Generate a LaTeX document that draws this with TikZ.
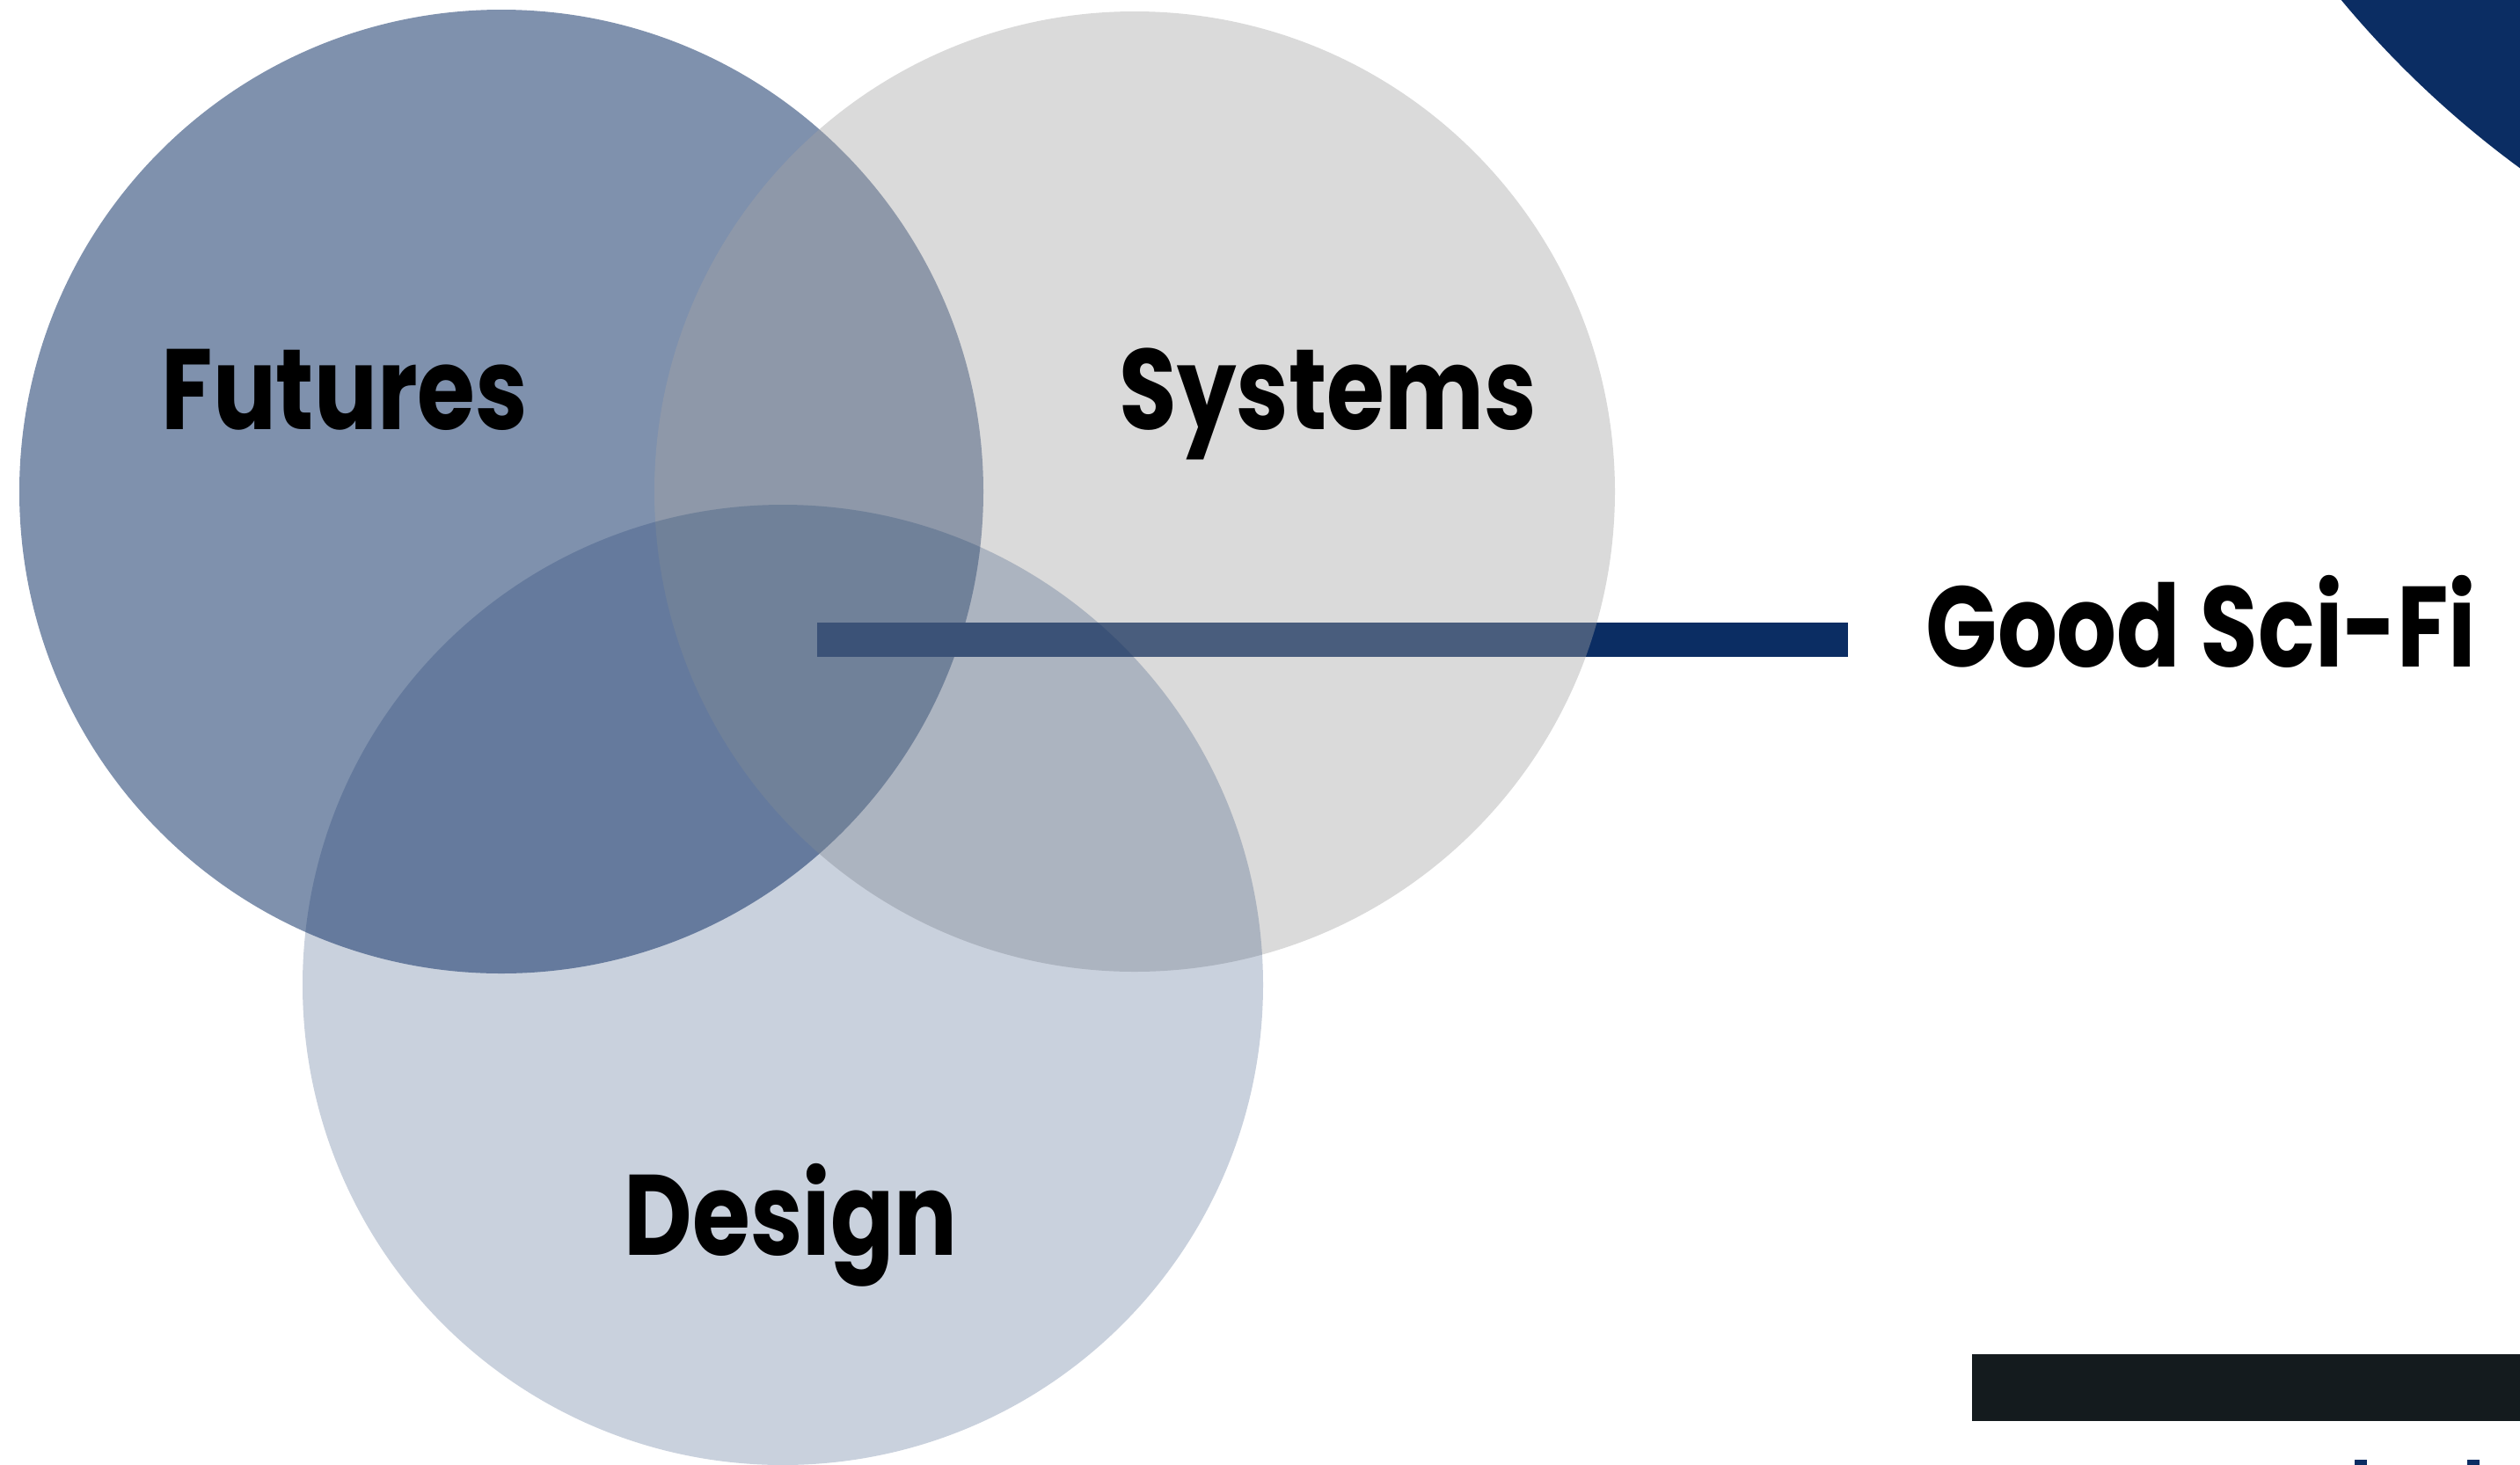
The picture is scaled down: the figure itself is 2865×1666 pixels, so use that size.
\documentclass[tikz,border=0pt]{standalone}
\usepackage{fontspec}
\setmainfont{Poppins}[FakeStretch=0.82]
\definecolor{navy}{HTML}{0B2D63}
\definecolor{sysgray}{HTML}{A4A4A4}
\definecolor{inkbar}{HTML}{141B1E}
\begin{document}
\begin{tikzpicture}[x=0.01cm,y=-0.01cm,
    lbl/.style={anchor=base west,inner sep=0pt,font=\fontsize{37}{40}\selectfont\bfseries},
    barline/.style={navy,line width=0.39cm}]
                \useasboundingbox (0,0) rectangle (2865,1666);
                \clip (0,0) rectangle (2865,1666);
                \fill [navy] (3540,-730) circle [radius=1142];
                \coordinate (hub) at (929,727.5);
                \coordinate (barend) at (2101,727.5);
                \draw [barline] (hub) -- (barend);
                \fill [navy, fill opacity=0.525] (570,559) circle [radius=548];
                \fill [sysgray, fill opacity=0.406] (1290,559) circle [radius=546];
                \fill [navy, fill opacity=0.22] (890,1120) circle [radius=546];
                \node [lbl] (futures) at (183,488) {Futures};
                \node [lbl] (systems) at (1272,488) {Systems};
                \node [lbl] (design) at (709,1427) {Design};
                \node [lbl] (scifi) at (2189,758) {Good Sci-Fi};
                \fill [inkbar] (2242,1540) rectangle (2865,1616);
                \fill [navy] (2677,1660) rectangle (2691,1666);
                \fill [navy] (2805,1660) rectangle (2819,1666);
            \end{tikzpicture}
\end{document}
